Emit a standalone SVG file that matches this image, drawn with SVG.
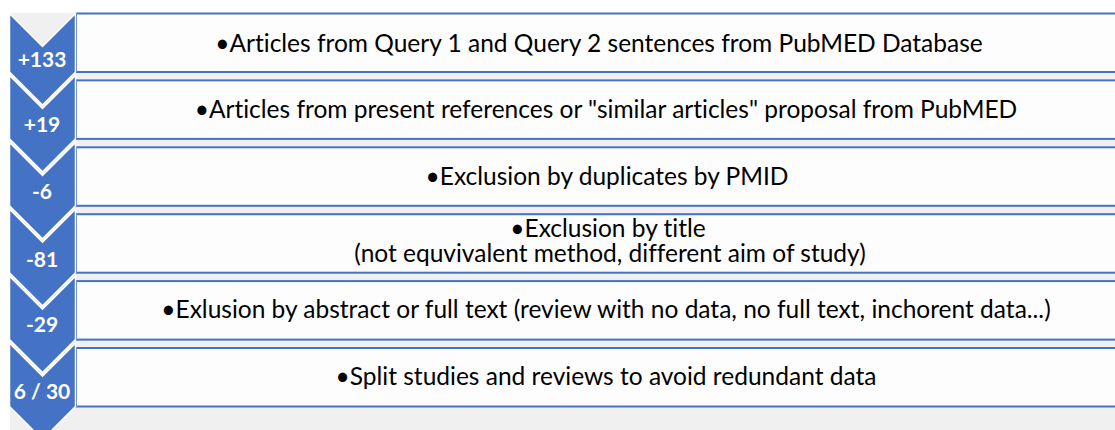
<svg xmlns="http://www.w3.org/2000/svg" width="1115" height="430" viewBox="0 0 1115 430">
  <style>
    .box { fill: #fdfdfd; stroke: #4472c4; stroke-width: 2; }
    .chev { fill: #4472c4; stroke: #ffffff; stroke-width: 1.5; stroke-linejoin: miter; }
    .txt { font-family: Lato, "Liberation Sans", sans-serif; font-size: 24.5px; fill: #000000; text-anchor: middle; font-variant-ligatures: none; }
    .num { font-family: Lato, "Liberation Sans", sans-serif; font-size: 21px; font-weight: bold; fill: #ffffff; text-anchor: middle; }
  </style>
  <rect x="0" y="0" width="1115" height="430" fill="#ffffff"/>
  <rect x="10" y="13" width="1105" height="417" fill="#f0f0f0"/>

  <g id="connectors"></g>

  <g id="step1">
    <rect class="box" x="76" y="13.5" width="1060" height="58.5"/>
    <path class="chev" d="M9.5,13.5 L42.5,46.5 L75.5,13.5 L75.5,72 L42.5,105 L9.5,72 Z"/>
    <text class="num" x="42" y="67">+133</text>
    <text class="txt" x="599" y="52">•Articles from Query 1 and Query 2 sentences from PubMED Database</text>
  </g>

  <g id="step2">
    <rect class="box" x="76" y="80.4" width="1060" height="58.5"/>
    <path class="chev" d="M9.5,75.5 L42.5,108.5 L75.5,75.5 L75.5,138.9 L42.5,171.9 L9.5,138.9 Z"/>
    <text class="num" x="42" y="132">+19</text>
    <text class="txt" x="606" y="118">•Articles from present references or "similar articles" proposal from PubMED</text>
  </g>

  <g id="step3">
    <rect class="box" x="76" y="147.3" width="1060" height="58.5"/>
    <path class="chev" d="M9.5,142.4 L42.5,175.4 L75.5,142.4 L75.5,205.8 L42.5,238.8 L9.5,205.8 Z"/>
    <text class="num" x="42" y="199">-6</text>
    <text class="txt" x="607" y="185">•Exclusion by duplicates by PMID</text>
  </g>

  <g id="step4">
    <rect class="box" x="76" y="214.2" width="1060" height="58.5"/>
    <path class="chev" d="M9.5,209.3 L42.5,242.3 L75.5,209.3 L75.5,272.7 L42.5,305.7 L9.5,272.7 Z"/>
    <text class="num" x="42" y="266.5">-81</text>
    <text class="txt" x="608" y="237">•Exclusion by title</text>
    <text class="txt" x="610" y="262">(not equvivalent method, different aim of study)</text>
  </g>

  <g id="step5">
    <rect class="box" x="76" y="281.1" width="1060" height="58.5"/>
    <path class="chev" d="M9.5,276.2 L42.5,309.2 L75.5,276.2 L75.5,339.6 L42.5,372.6 L9.5,339.6 Z"/>
    <text class="num" x="42" y="332">-29</text>
    <text class="txt" x="606" y="318">•Exlusion by abstract or full text (review with no data, no full text, inchorent data...)</text>
  </g>

  <g id="step6">
    <rect class="box" x="76" y="348" width="1060" height="58.5"/>
    <path class="chev" d="M9.5,343.1 L42.5,376.1 L75.5,343.1 L75.5,406.5 L42.5,439.5 L9.5,406.5 Z"/>
    <text class="num" x="42" y="399">6 / 30</text>
    <text class="txt" x="606" y="384.5">•Split studies and reviews to avoid redundant data</text>
  </g>
</svg>
